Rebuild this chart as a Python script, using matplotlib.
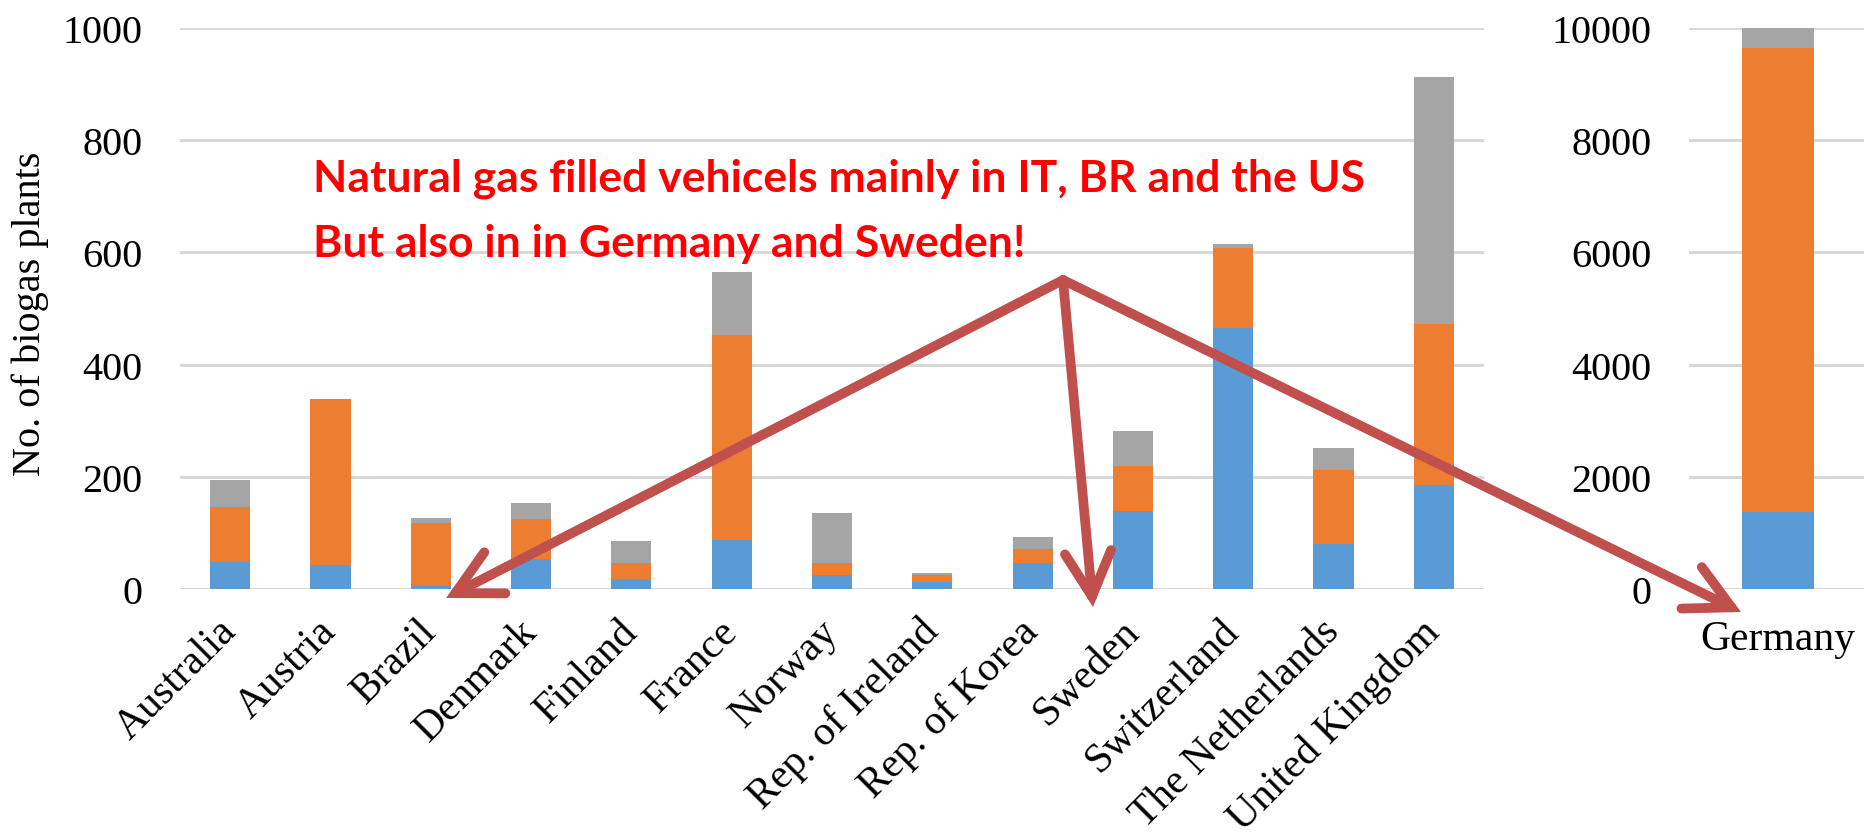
import matplotlib
matplotlib.use('Agg')
import matplotlib.pyplot as plt
from matplotlib.patches import FancyArrowPatch
import numpy as np

# countries on the left panel
countries = ['Australia', 'Austria', 'Brazil', 'Denmark', 'Finland', 'France',
             'Norway', 'Rep. of Ireland', 'Rep. of Korea', 'Sweden',
             'Switzerland', 'The Netherlands', 'United Kingdom']
# stacked segments (blue, orange, grey)
blue_vals = [49, 42, 6, 53, 18, 88, 25, 13, 46, 139, 466, 81, 185]
orange_vals = [97, 296, 111, 71, 28, 364, 21, 12, 25, 80, 142, 132, 288]
grey_vals = [49, 0, 10, 29, 39, 113, 89, 3, 21, 62, 7, 39, 440]

# Germany on its own scale
de_label = ['Germany']
de_blue = [1378]
de_orange = [8263]
de_grey = [375]

left_ticks = [0, 200, 400, 600, 800, 1000]
right_ticks = [0, 2000, 4000, 6000, 8000, 10000]

c_blue = '#5B9BD5'
c_orange = '#ED7D31'
c_grey = '#A5A5A5'
c_grid = '#D9D9D9'
c_arrow = '#C0504D'

W, H = 1864, 837
fig = plt.figure(figsize=(W / 100, H / 100), dpi=100)
serif = 'Liberation Serif'


def stack(ax, labels, b, o, g):
    x = np.arange(len(labels))
    b = np.array(b)
    o = np.array(o)
    g = np.array(g)
    ax.bar(x, b, 0.4, color=c_blue, zorder=2)
    ax.bar(x, o, 0.4, bottom=b, color=c_orange, zorder=2)
    ax.bar(x, g, 0.4, bottom=b + o, color=c_grey, zorder=2)
    ax.set_xlim(-0.5, len(labels) - 0.5)
    for s in ax.spines.values():
        s.set_visible(False)
    ax.yaxis.grid(True, color=c_grid, linewidth=2.2, zorder=0)
    ax.set_axisbelow(True)
    ax.tick_params(length=0)
    return x


bot = (H - 590) / H
top = (H - 29) / H
ax1 = fig.add_axes([180 / W, bot, (1484 - 180) / W, top - bot])
x = stack(ax1, countries, blue_vals, orange_vals, grey_vals)
ax1.set_ylim(0, 1000)
ax1.set_yticks(left_ticks)
ax1.set_yticklabels([str(t) for t in left_ticks], fontsize=29, family=serif)
ax1.tick_params(axis='y', pad=27)
ax1.set_xticks(x)
ax1.set_xticklabels(countries, rotation=45, ha='right', va='center',
                    rotation_mode='anchor', fontsize=30, family=serif)
ax1.tick_params(axis='x', pad=26)

fig.text(30 / W, 1 - 314 / H, 'No. of biogas plants', rotation=90,
         ha='center', va='center', fontsize=29, family=serif)

ax2 = fig.add_axes([1689 / W, bot, (1867 - 1689) / W, top - bot])
x2 = stack(ax2, de_label, de_blue, de_orange, de_grey)
ax2.set_ylim(0, 10000)
ax2.set_yticks(right_ticks)
ax2.set_yticklabels([str(t) for t in right_ticks], fontsize=29, family=serif)
ax2.tick_params(axis='y', pad=27)
ax2.set_xticks(x2)
ax2.set_xticklabels(de_label, fontsize=30, family=serif)
ax2.tick_params(axis='x', pad=22)

# annotation text
fig.text(313 / W, 1 - 192 / H, 'Natural gas filled vehicels mainly in IT, BR and the US',
         color='#FF0000', fontsize=32, fontweight='bold', family='Lato', va='baseline')
fig.text(313 / W, 1 - 257 / H, 'But also in in Germany and Sweden!',
         color='#FF0000', fontsize=32, fontweight='bold', family='Lato', va='baseline')

# arrows from one point
src = (1063, H - 281)
for tip in [(446, H - 599), (1093, H - 608), (1741, H - 613)]:
    fig.add_artist(FancyArrowPatch(
        posA=(src[0] / W, src[1] / H), posB=(tip[0] / W, tip[1] / H),
        transform=fig.transFigure, arrowstyle='->,head_length=1.0,head_width=0.52',
        mutation_scale=32, color=c_arrow, linewidth=7, shrinkA=0, shrinkB=0,
        joinstyle='miter', capstyle='round', zorder=5))

fig.savefig('out.png', dpi=100)
